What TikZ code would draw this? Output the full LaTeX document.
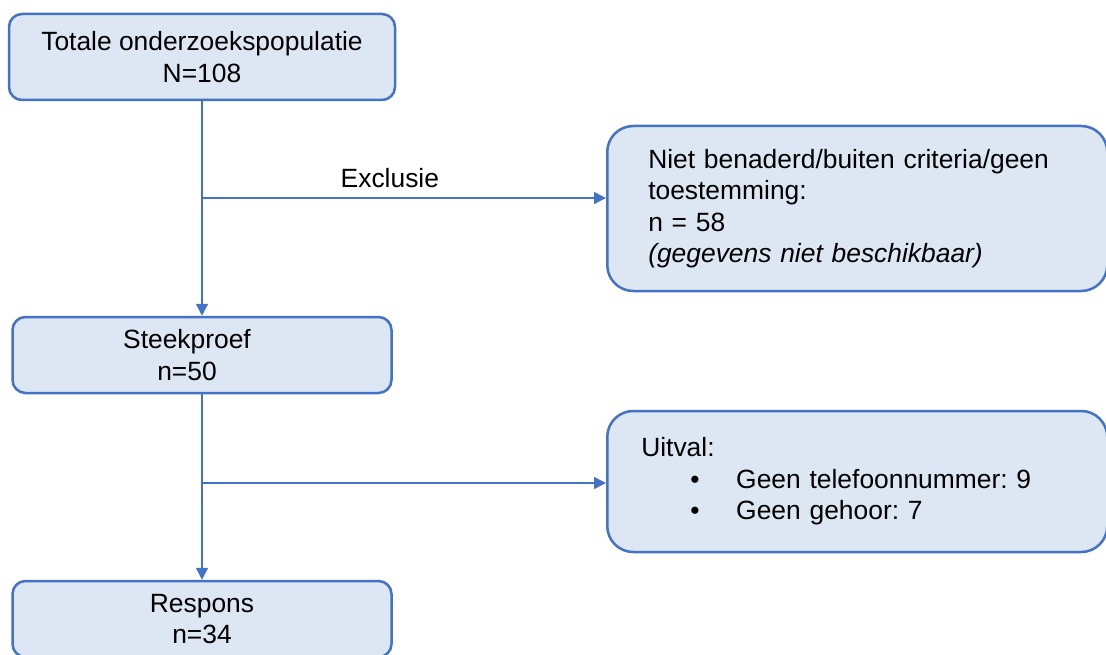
\documentclass[tikz,border=0pt]{standalone}
\usepackage{fontspec}
\setmainfont{Liberation Sans}
\usetikzlibrary{arrows.meta}
\definecolor{flowline}{HTML}{4472C4}
\definecolor{flowfill}{HTML}{DDE7F4}
\newcommand\flowtextstyle{\fontsize{26.4}{31.5}\selectfont\frenchspacing}
\newcommand\flowmainwidth{379pt}
\newcommand\flowmainheight{76pt}
\newcommand\flowsidewidth{500pt}
\tikzset{
  flowbox/.style={draw=flowline, line width=2.5pt, fill=flowfill, inner sep=0pt, font=\flowtextstyle},
  mainbox/.style={flowbox, rounded corners=13pt, minimum width=\flowmainwidth, minimum height=\flowmainheight, align=center},
  sidebox/.style={flowbox, rounded corners=26pt, anchor=west, align=left},
  flowarrow/.style={draw=flowline, line width=1.6pt, -{Triangle[length=12pt,width=12pt]}},
}

\begin{document}
\begin{tikzpicture}[x=1pt, y=-1pt]
    \useasboundingbox (0, 0) rectangle (1106, 655) ;
    \clip (0, 0) rectangle (1106, 655) ;
    \node[mainbox, minimum width=386pt, minimum height=86pt] (totaal) at (202, 57) {Totale onderzoekspopulatie\\N=108} ;
    \node[mainbox] (steek) at (202, 355) {Steekproef\rule{30pt}{0pt}\\n=50\rule{30pt}{0pt}} ;
    \node[mainbox] (respons) at (202, 619) {Respons\\n=34} ;
    \node[sidebox, text width=418pt, inner xsep=41pt, minimum height=165pt] (excl) at (606, 208.5)
      {Niet benaderd/buiten criteria/geen\\toestemming:\\n = 58\\\textit{(gegevens niet beschikbaar)}} ;
    \node[sidebox, text width=432pt, inner xsep=34pt, minimum height=141pt] (uitval) at (606, 481.5)
      {Uitval:\\\makebox[95pt][l]{\hspace{49pt}\textbullet}Geen telefoonnummer: 9\\\makebox[95pt][l]{\hspace{49pt}\textbullet}Geen gehoor: 7} ;
    \coordinate (split1) at (totaal.south |- 0, 198) ;
    \coordinate (split2) at (steek.south |- 0, 483) ;
    \draw[flowarrow] (totaal.south) -- (steek.north) ;
    \draw[flowarrow] (steek.south) -- (respons.north) ;
    \draw[flowarrow] (split1) -- node[above, pos=0.465, inner sep=9pt, font=\flowtextstyle] (exclabel) {Exclusie} (split1 -| excl.west) ;
    \draw[flowarrow] (split2) -- (split2 -| uitval.west) ;
\end{tikzpicture}
\end{document}
